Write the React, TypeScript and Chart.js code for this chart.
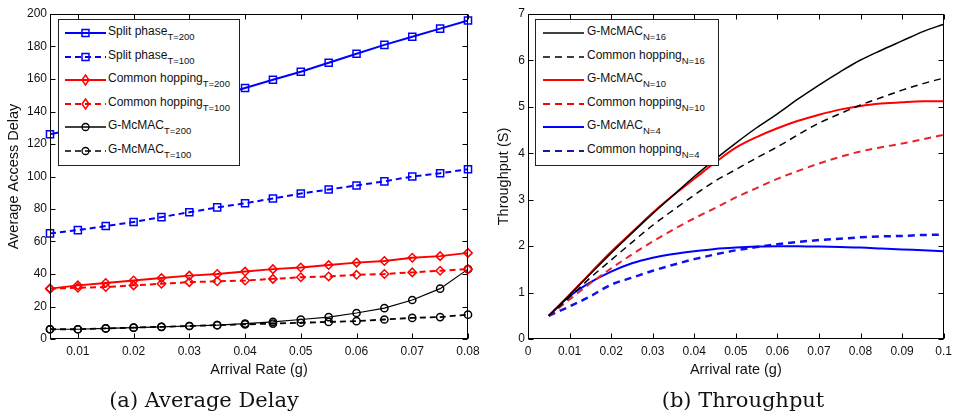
import React, { useEffect, useRef } from 'react';
import { Chart, registerables } from 'chart.js';

Chart.register(...registerables);

// ---------- (a) Average Delay ----------
const delayRates = [0.005, 0.01, 0.015, 0.02, 0.025, 0.03, 0.035, 0.04, 0.045, 0.05, 0.055, 0.06, 0.065, 0.07, 0.075, 0.08];
const splitT200 = [126, 129.5, 133, 137, 141, 145, 149.5, 154.5, 159.5, 164.5, 170, 175.5, 181, 186, 191, 196];
const splitT100 = [65, 67, 69.5, 72, 75, 78, 81, 83.5, 86.5, 89.5, 92, 94.5, 97, 100, 102, 104.5];
const commonT200 = [31, 33, 34.5, 36, 37.5, 39, 40, 41.5, 43, 44, 45.5, 47, 48, 50, 51, 53];
const commonT100 = [31, 31.5, 32, 33, 34, 35, 35.5, 36, 37, 38, 38.5, 39.5, 40, 41, 42, 43];
const gmcmacT200 = [6, 6, 6.5, 7, 7.5, 8, 8.5, 9.5, 10.5, 12, 13.5, 16, 19, 24, 31, 43];
const gmcmacT100 = [6, 6, 6.5, 7, 7.5, 8, 8.5, 9, 9.5, 10, 10.5, 11, 12, 13, 13.5, 15];
const delayXTicks = [0.01, 0.02, 0.03, 0.04, 0.05, 0.06, 0.07, 0.08];
const delayYTicks = [0, 20, 40, 60, 80, 100, 120, 140, 160, 180, 200];

// ---------- (b) Throughput ----------
const thrRates = [0.005, 0.01, 0.015, 0.02, 0.025, 0.03, 0.035, 0.04, 0.045, 0.05, 0.055, 0.06, 0.065, 0.07, 0.075, 0.08, 0.085, 0.09, 0.095, 0.1];
const gN16 = [0.5, 0.95, 1.4, 1.85, 2.28, 2.7, 3.1, 3.5, 3.87, 4.22, 4.55, 4.85, 5.17, 5.47, 5.75, 6.01, 6.22, 6.42, 6.62, 6.78];
const cN16 = [0.5, 0.9, 1.32, 1.7, 2.08, 2.45, 2.78, 3.1, 3.4, 3.65, 3.9, 4.14, 4.4, 4.65, 4.85, 5.04, 5.2, 5.36, 5.5, 5.62];
const gN10 = [0.5, 0.95, 1.42, 1.88, 2.3, 2.72, 3.1, 3.45, 3.8, 4.12, 4.35, 4.54, 4.7, 4.83, 4.94, 5.02, 5.07, 5.1, 5.12, 5.12];
const cN10 = [0.5, 0.85, 1.2, 1.52, 1.82, 2.1, 2.36, 2.6, 2.82, 3.05, 3.25, 3.45, 3.62, 3.78, 3.92, 4.04, 4.13, 4.21, 4.3, 4.4];
const gN4 = [0.5, 0.92, 1.22, 1.45, 1.63, 1.75, 1.83, 1.89, 1.94, 1.97, 1.99, 2.0, 2.0, 1.99, 1.98, 1.97, 1.95, 1.93, 1.91, 1.89];
const cN4 = [0.5, 0.7, 0.92, 1.17, 1.32, 1.47, 1.6, 1.72, 1.82, 1.91, 1.98, 2.04, 2.09, 2.13, 2.16, 2.19, 2.21, 2.22, 2.24, 2.25];
const thrXTicks = [0, 0.01, 0.02, 0.03, 0.04, 0.05, 0.06, 0.07, 0.08, 0.09, 0.1];
const thrYTicks = [0, 1, 2, 3, 4, 5, 6, 7];

const BLUE = '#0000ff';
const RED = '#ff0000';
const BLACK = '#000000';
const SANS = '"Liberation Sans", Arial, sans-serif';

const fmt = (v: number) => String(+v.toFixed(3));
const pts = (xs: number[], ys: number[]) => xs.map((x, i) => ({ x, y: ys[i] }));

const boxPlugin = {
  id: 'matlabBox',
  afterDraw(chart: any) {
    const { ctx, chartArea: a, scales } = chart;
    const L = 5;
    const l = Math.round(a.left) + 0.5, r = Math.round(a.right) - 0.5;
    const t = Math.round(a.top) + 0.5, b = Math.round(a.bottom) - 0.5;
    ctx.save();
    ctx.strokeStyle = '#000';
    ctx.lineWidth = 1;
    ctx.beginPath();
    scales.x.ticks.forEach((tk: any) => {
      const px = Math.round(scales.x.getPixelForValue(tk.value)) + 0.5;
      ctx.moveTo(px, b); ctx.lineTo(px, b - L);
      ctx.moveTo(px, t); ctx.lineTo(px, t + L);
    });
    scales.y.ticks.forEach((tk: any) => {
      const py = Math.round(scales.y.getPixelForValue(tk.value)) + 0.5;
      ctx.moveTo(l, py); ctx.lineTo(l + L, py);
      ctx.moveTo(r, py); ctx.lineTo(r - L, py);
    });
    ctx.stroke();
    ctx.strokeRect(l, t, r - l, b - t);
    ctx.restore();
  },
};

function makeOptions(cfg: {
  xmin: number; xmax: number; xticks: number[]; ymax: number; yticks: number[];
  xTitle: string; yTitle: string; yWidth: number; yTitlePad: number; padRight: number;
}) {
  return {
    responsive: false,
    animation: false as const,
    devicePixelRatio: 1,
    layout: { padding: { top: 14, right: cfg.padRight, left: 0, bottom: 38 } },
    plugins: { legend: { display: false }, tooltip: { enabled: false }, title: { display: false } },
    scales: {
      x: {
        type: 'linear' as const,
        min: cfg.xmin,
        max: cfg.xmax,
        grid: { display: false, drawTicks: false },
        border: { display: false },
        afterBuildTicks: (s: any) => { s.ticks = cfg.xticks.map((v) => ({ value: v })); },
        afterFit: (s: any) => { s.height = 40; },
        ticks: {
          autoSkip: false, maxRotation: 0, padding: 5, color: '#111',
          font: { family: SANS, size: 12 },
          callback: (v: any) => fmt(Number(v)),
        },
        title: {
          display: true, text: cfg.xTitle, color: '#111',
          font: { family: SANS, size: 14.5 }, padding: { top: 0, bottom: 0 },
        },
      },
      y: {
        type: 'linear' as const,
        min: 0,
        max: cfg.ymax,
        grid: { display: false, drawTicks: false },
        border: { display: false },
        afterBuildTicks: (s: any) => { s.ticks = cfg.yticks.map((v) => ({ value: v })); },
        afterFit: (s: any) => { s.width = cfg.yWidth; },
        ticks: {
          autoSkip: false, padding: 3, color: '#111',
          font: { family: SANS, size: 12 },
          callback: (v: any) => fmt(Number(v)),
        },
        title: {
          display: true, text: cfg.yTitle, color: '#111',
          font: { family: SANS, size: 14.5 }, padding: { top: cfg.yTitlePad, bottom: 0 },
        },
      },
    },
  };
}

function useChart(ref: React.RefObject<HTMLCanvasElement>, build: () => any) {
  useEffect(() => {
    if (!ref.current) return;
    const chart = new Chart(ref.current, build());
    return () => chart.destroy();
  }, []);
}

type Entry = { color: string; dash: number[]; width: number; marker?: 'square' | 'diamond' | 'circle'; main: string; sub: string };

const delayLegend: Entry[] = [
  { color: BLUE, dash: [], width: 2, marker: 'square', main: 'Split phase', sub: 'T=200' },
  { color: BLUE, dash: [6, 4], width: 2, marker: 'square', main: 'Split phase', sub: 'T=100' },
  { color: RED, dash: [], width: 2, marker: 'diamond', main: 'Common hopping', sub: 'T=200' },
  { color: RED, dash: [6, 4], width: 2, marker: 'diamond', main: 'Common hopping', sub: 'T=100' },
  { color: BLACK, dash: [], width: 1.5, marker: 'circle', main: 'G-McMAC', sub: 'T=200' },
  { color: BLACK, dash: [6, 4], width: 1.5, marker: 'circle', main: 'G-McMAC', sub: 'T=100' },
];

const thrLegend: Entry[] = [
  { color: BLACK, dash: [], width: 1.5, main: 'G-McMAC', sub: 'N=16' },
  { color: BLACK, dash: [7, 5], width: 1.5, main: 'Common hopping', sub: 'N=16' },
  { color: RED, dash: [], width: 2, main: 'G-McMAC', sub: 'N=10' },
  { color: RED, dash: [7, 5], width: 2, main: 'Common hopping', sub: 'N=10' },
  { color: BLUE, dash: [], width: 2, main: 'G-McMAC', sub: 'N=4' },
  { color: '#1a1a99', dash: [7, 5], width: 2, main: 'Common hopping', sub: 'N=4' },
];

function Marker({ kind, color }: { kind?: string; color: string }) {
  if (kind === 'square') return <rect x={17} y={3.5} width={7} height={7} fill="none" stroke={color} strokeWidth={1.5} />;
  if (kind === 'diamond') return <polygon points="20.5,2 24,7 20.5,12 17,7" fill="none" stroke={color} strokeWidth={1.5} />;
  if (kind === 'circle') return <circle cx={20.5} cy={7} r={3.5} fill="none" stroke={color} strokeWidth={1.3} />;
  return null;
}

function Legend({ entries, box, lineX, textX }: { entries: Entry[]; box: { l: number; t: number; w: number; h: number }; lineX: number; textX: number }) {
  const centers = [32, 55.5, 79, 102.5, 126, 149.5];
  return (
    <div style={{ position: 'absolute', left: box.l, top: box.t, width: box.w, height: box.h, boxSizing: 'border-box', border: '1px solid #222', background: '#fff' }}>
      {entries.map((e, i) => {
        const c = centers[i] - box.t;
        return (
          <React.Fragment key={i}>
            <svg width={41} height={14} style={{ position: 'absolute', left: lineX - box.l - 1, top: c - 7 }}>
              <line x1={0} y1={7} x2={41} y2={7} stroke={e.color} strokeWidth={e.width} strokeDasharray={e.dash.length ? e.dash.join(',') : undefined} />
              <Marker kind={e.marker} color={e.color} />
            </svg>
            <div style={{ position: 'absolute', left: textX - box.l, top: c - 10, height: 16, lineHeight: '16px', whiteSpace: 'nowrap', fontFamily: SANS, fontSize: 12, color: '#111' }}>
              {e.main}
              <sub style={{ fontSize: 9.5, verticalAlign: '-5px', lineHeight: 0 }}>{e.sub}</sub>
            </div>
          </React.Fragment>
        );
      })}
    </div>
  );
}

export default function App() {
  const leftRef = useRef<HTMLCanvasElement>(null);
  const rightRef = useRef<HTMLCanvasElement>(null);

  useChart(leftRef, () => {
    const mk = (label: string, ys: number[], color: string, dash: number[], width: number, style: string, radius: number) => ({
      label,
      data: pts(delayRates, ys),
      borderColor: color,
      borderWidth: width,
      borderDash: dash,
      pointStyle: style,
      pointRadius: radius,
      pointBorderWidth: 1.5,
      pointBorderColor: color,
      pointBackgroundColor: 'rgba(0,0,0,0)',
      tension: 0,
      clip: false,
    });
    return {
      type: 'line',
      data: {
        datasets: [
          mk('Split phase T=200', splitT200, BLUE, [], 2, 'rect', 5),
          mk('Split phase T=100', splitT100, BLUE, [6, 4], 2, 'rect', 5),
          mk('Common hopping T=200', commonT200, RED, [], 2, 'rectRot', 4.2),
          mk('Common hopping T=100', commonT100, RED, [6, 4], 2, 'rectRot', 4.2),
          mk('G-McMAC T=200', gmcmacT200, BLACK, [], 1.2, 'circle', 3.6),
          mk('G-McMAC T=100', gmcmacT100, BLACK, [6, 4], 1.8, 'circle', 3.6),
        ],
      },
      options: makeOptions({
        xmin: 0.005, xmax: 0.08, xticks: delayXTicks, ymax: 200, yticks: delayYTicks,
        xTitle: 'Arrival Rate (g)', yTitle: 'Average Access Delay', yWidth: 50, yTitlePad: 5, padRight: 22,
      }),
      plugins: [boxPlugin],
    };
  });

  useChart(rightRef, () => {
    const mk = (label: string, ys: number[], color: string, dash: number[], width: number) => ({
      label,
      data: pts(thrRates, ys),
      borderColor: color,
      borderWidth: width,
      borderDash: dash,
      pointRadius: 0,
      cubicInterpolationMode: 'monotone',
      clip: false,
    });
    return {
      type: 'line',
      data: {
        datasets: [
          mk('G-McMAC N=16', gN16, BLACK, [], 1.5),
          mk('Common hopping N=16', cN16, BLACK, [7, 5], 1.5),
          mk('G-McMAC N=10', gN10, RED, [], 2),
          mk('Common hopping N=10', cN10, '#e8242a', [7, 5], 2),
          mk('G-McMAC N=4', gN4, BLUE, [], 2),
          mk('Common hopping N=4', cN4, '#1010ee', [7, 5], 2.5),
        ],
      },
      options: makeOptions({
        xmin: 0, xmax: 0.1, xticks: thrXTicks, ymax: 7, yticks: thrYTicks,
        xTitle: 'Arrival rate (g)', yTitle: 'Throughput (S)', yWidth: 48, yTitlePad: 15, padRight: 11,
      }),
      plugins: [boxPlugin],
    };
  });

  const subStyle: React.CSSProperties = {
    position: 'absolute', top: 388, height: 24, lineHeight: '24px', fontFamily: '"DejaVu Serif", serif',
    fontSize: 21, color: '#111', textAlign: 'center', whiteSpace: 'nowrap',
  };

  return (
    <div style={{ position: 'absolute', left: 0, top: 0, width: 957, height: 417, background: '#fff', overflow: 'hidden' }}>
      <canvas ref={leftRef} width={490} height={417} style={{ position: 'absolute', left: 0, top: 0 }} />
      <canvas ref={rightRef} width={477} height={417} style={{ position: 'absolute', left: 480, top: 0 }} />
      <Legend entries={delayLegend} box={{ l: 58, t: 19, w: 182, h: 147 }} lineX={65} textX={107} />
      <Legend entries={thrLegend} box={{ l: 535, t: 19, w: 184, h: 147 }} lineX={543} textX={586} />
      <div style={{ ...subStyle, left: 84, width: 240 }}>(a) Average Delay</div>
      <div style={{ ...subStyle, left: 623, width: 240 }}>(b) Throughput</div>
    </div>
  );
}
